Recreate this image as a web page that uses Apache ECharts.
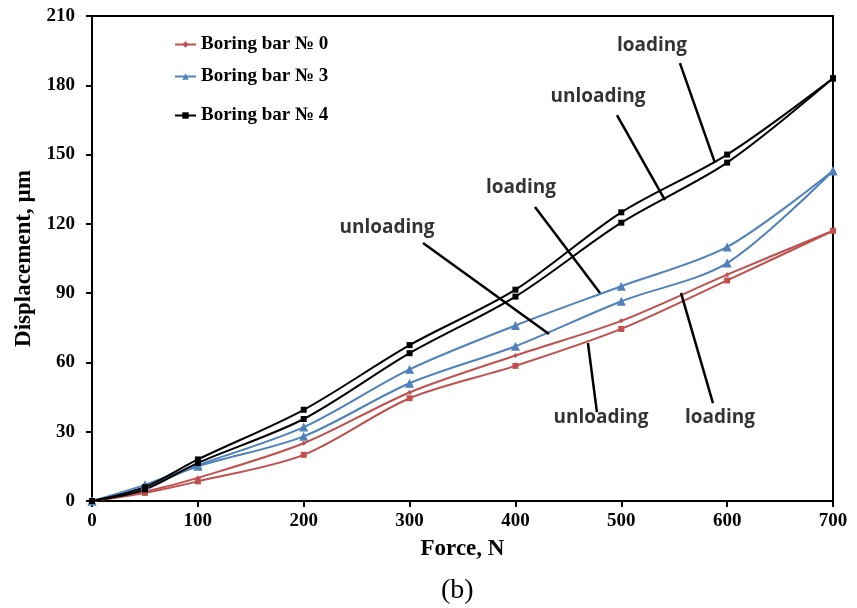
<!DOCTYPE html>
<html>
<head>
<meta charset="utf-8">
<script src="https://cdn.jsdelivr.net/npm/echarts@6/dist/echarts.min.js"></script>
<style>html,body{margin:0;padding:0;background:#fff;}#c{width:857px;height:608px;}</style>
</head>
<body>
<div id="c"></div>
<script>
const forces = [0, 50, 100, 200, 300, 400, 500, 600, 700];
const bar0A = [0, 4, 10, 25, 47, 63, 78, 98, 117];
const bar0B = [0, 3.5, 8.5, 20, 44.5, 58.5, 74.5, 95.5, 117];
const bar3A = [0, 7, 15.5, 32, 57, 76, 93, 110, 143];
const bar3B = [0, 6, 15, 28, 51, 67, 86.5, 103, 143];
const bar4A = [0, 6, 18, 39.5, 67.5, 91.5, 125, 150, 183];
const bar4B = [0, 5, 16.5, 35.5, 64, 88.5, 120.5, 146.5, 183];
const yTicks = [0, 30, 60, 90, 120, 150, 180, 210];
const xTicks = [0, 100, 200, 300, 400, 500, 600, 700];
const names = ['Boring bar № 0', 'Boring bar № 3', 'Boring bar № 4'];
// annotation pointer lines (data units)
const annoLines = [
  [[555.4, 189.6], [588.5, 146.4]],
  [[495.9, 167.1], [541.3, 130.3]],
  [[418.5, 127.3], [479.9, 90.1]],
  [[312.7, 111.7], [431.7, 72.3]],
  [[468.5, 68.4], [477.0, 38.5]],
  [[556.4, 90.1], [586.6, 42.4]]
];
const annoTexts = [
  ['loading', 529.0, 197.4],
  ['unloading', 478.0, 174.9],
  ['loading', 405.3, 135.5],
  ['unloading', 278.7, 118.2],
  ['unloading', 480.8, 35.9],
  ['loading', 593.2, 35.9]
];

const pair = (arr) => forces.map((f, i) => [f, arr[i]]);
const red = '#C0504D', blue = '#4F81BD', black = '#000000';
function line(name, data, color, symbol, size) {
  return {
    type: 'line', name: name, data: pair(data), smooth: 0.3,
    symbol: symbol, symbolSize: size, showSymbol: true,
    lineStyle: {color: color, width: 2}, itemStyle: {color: color},
    z: 3
  };
}
const serif = '"Liberation Serif", "Times New Roman", serif';
const legendCommon = (name, top) => ({
  data: [name], left: 169, top: top, orient: 'vertical',
  itemWidth: 21, itemHeight: 8,
  textStyle: {fontFamily: serif, fontWeight: 'bold', fontSize: 19, color: '#000'}
});

const chart = echarts.init(document.getElementById('c'));
chart.setOption({
  animation: false,
  backgroundColor: '#fff',
  grid: {left: 92, right: 24, top: 16, bottom: 107, show: true, borderColor: '#000', borderWidth: 2},
  legend: [legendCommon(names[0], 30), legendCommon(names[1], 62), legendCommon(names[2], 101)],
  xAxis: {
    type: 'value', min: 0, max: 700, interval: 100,
    name: 'Force, N', nameLocation: 'middle', nameGap: 37,
    nameTextStyle: {fontFamily: serif, fontWeight: 'bold', fontSize: 23, color: '#000'},
    axisLine: {lineStyle: {color: '#000', width: 2}},
    axisTick: {show: true, length: 6, lineStyle: {color: '#000', width: 2}},
    splitLine: {show: false},
    axisLabel: {fontFamily: serif, fontWeight: 'bold', fontSize: 19, color: '#000', margin: 11,
      formatter: v => xTicks.includes(v) ? String(v) : ''}
  },
  yAxis: {
    type: 'value', min: 0, max: 210, interval: 30,
    name: 'Displacement, µm', nameLocation: 'middle', nameGap: 52,
    nameTextStyle: {fontFamily: serif, fontWeight: 'bold', fontSize: 23, color: '#000'},
    axisLine: {show: true, lineStyle: {color: '#000', width: 2}},
    axisTick: {show: true, length: 6, lineStyle: {color: '#000', width: 2}},
    splitLine: {show: false},
    axisLabel: {fontFamily: serif, fontWeight: 'bold', fontSize: 19, color: '#000', margin: 17,
      formatter: v => yTicks.includes(v) ? String(v) : ''}
  },
  graphic: [{type: 'text', left: 441, top: 577,
    style: {text: '(b)', font: '28px "Liberation Serif", serif', fill: '#000'}}],
  series: [
    line(names[0], bar0A, red, 'diamond', 5),
    line(names[0], bar0B, red, 'rect', 6),
    line(names[1], bar3A, blue, 'triangle', 9),
    line(names[1], bar3B, blue, 'triangle', 9),
    line(names[2], bar4A, black, 'rect', 6),
    line(names[2], bar4B, black, 'rect', 6),
    {
      type: 'scatter', name: 'annotations', symbolSize: 0, z: 5,
      data: annoTexts.map(t => ({name: t[0], value: [t[1], t[2]]})),
      label: {show: true, position: 'inside', formatter: p => p.name,
        fontFamily: '"Open Sans", "Noto Sans", sans-serif', fontWeight: 'bold', fontSize: 19, color: '#000'},
      markLine: {
        silent: true, symbol: ['none', 'none'], animation: false,
        lineStyle: {color: '#000', width: 2.5, type: 'solid'},
        label: {show: false},
        data: annoLines.map(l => [{coord: l[0]}, {coord: l[1]}])
      }
    }
  ]
});
</script>
</body>
</html>
